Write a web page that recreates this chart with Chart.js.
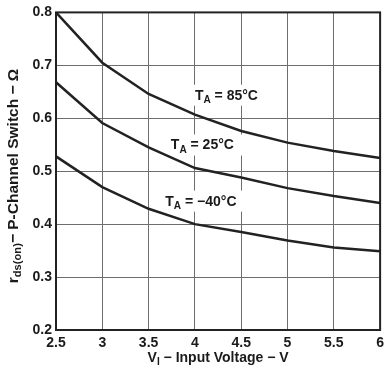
<!DOCTYPE html>
<html lang="en">
<head>
    <meta charset="UTF-8">
    <title>rds(on) vs Input Voltage</title>
    <script src="https://cdn.jsdelivr.net/npm/chart.js"></script>
    <style>
        body { margin: 0; background: #fff; }
        .chart-container { width: 389px; height: 369px; }
    </style>
</head>
<body>
    <div class="chart-container">
        <canvas id="rdsChart"></canvas>
    </div>

    <script>
        // data, every 0.5 V
        const voltages = [2.5, 3, 3.5, 4, 4.5, 5, 5.5, 6];
        const temps = ['85', '25', '\u221240'];
        const r85 = [0.800, 0.705, 0.646, 0.607, 0.576, 0.554, 0.538, 0.525];
        const r25 = [0.668, 0.591, 0.545, 0.506, 0.488, 0.468, 0.453, 0.440];
        const rMinus40 = [0.528, 0.470, 0.429, 0.400, 0.385, 0.369, 0.356, 0.349];
        const xTicks = [2.5, 3, 3.5, 4, 4.5, 5, 5.5, 6];
        const yTicks = [0.2, 0.3, 0.4, 0.5, 0.6, 0.7, 0.8];

        const FONT = '"Liberation Sans", Arial, Helvetica, sans-serif';

        // draws text made of pieces, some of them subscripts
        function richWidth(ctx, parts, size) {
            let w = 0;
            parts.forEach(p => {
                ctx.font = 'bold ' + (p.sub ? size * 0.72 : size) + 'px ' + FONT;
                w += ctx.measureText(p.t).width;
            });
            return w;
        }
        function drawRich(ctx, parts, x, y, size) {
            ctx.textAlign = 'left';
            ctx.textBaseline = 'alphabetic';
            parts.forEach(p => {
                ctx.font = 'bold ' + (p.sub ? size * 0.72 : size) + 'px ' + FONT;
                ctx.fillText(p.t, x, p.sub ? y + size * 0.22 : y);
                x += ctx.measureText(p.t).width;
            });
        }

        // where the T_A labels sit, in data units (left end, baseline)
        const labelAnchors = [[4.0, 0.635], [3.74, 0.541], [3.68, 0.435]];

        const extrasPlugin = {
            id: 'extras',
            beforeDatasetsDraw(chart) {
                const ctx = chart.ctx;
                const xs = chart.scales.x, ys = chart.scales.y;
                ctx.save();
                temps.forEach((t, i) => {
                    const parts = [{t: 'T'}, {t: 'A', sub: true}, {t: ' = ' + t + '\u00b0C'}];
                    const x = xs.getPixelForValue(labelAnchors[i][0]);
                    const y = ys.getPixelForValue(labelAnchors[i][1]);
                    const w = richWidth(ctx, parts, 14);
                    ctx.fillStyle = '#fff';
                    ctx.fillRect(x - 7, y - 15, w + 16, 21);
                    ctx.fillStyle = '#1a1a1a';
                    drawRich(ctx, parts, x, y, 14);
                });
                ctx.restore();
            },
            afterDraw(chart) {
                const ctx = chart.ctx;
                const a = chart.chartArea;
                ctx.save();
                ctx.strokeStyle = '#222';
                ctx.lineWidth = 2;
                ctx.strokeRect(a.left, a.top, a.right - a.left, a.bottom - a.top);

                ctx.fillStyle = '#1a1a1a';
                // x title
                const xParts = [{t: 'V'}, {t: 'I', sub: true}, {t: ' \u2212 Input Voltage \u2212 V'}];
                const xw = richWidth(ctx, xParts, 14);
                drawRich(ctx, xParts, (a.left + a.right) / 2 - xw / 2, 362, 14);

                // y title
                const yParts = [{t: 'r'}, {t: 'ds(on)', sub: true}, {t: '\u2212 P-Channel Switch \u2212 \u03a9'}];
                const yw = richWidth(ctx, yParts, 15.5);
                ctx.translate(18, 176);
                ctx.rotate(-Math.PI / 2);
                drawRich(ctx, yParts, -yw / 2, 0, 15.5);
                ctx.restore();
            }
        };

        const lineStyle = {
            borderColor: '#222',
            borderWidth: 2.5,
            pointRadius: 0,
            tension: 0,
            fill: false
        };

        const ctx = document.getElementById('rdsChart').getContext('2d');
        new Chart(ctx, {
            type: 'line',
            data: {
                datasets: [
                    Object.assign({ label: '85', data: voltages.map((v, i) => ({x: v, y: r85[i]})) }, lineStyle),
                    Object.assign({ label: '25', data: voltages.map((v, i) => ({x: v, y: r25[i]})) }, lineStyle),
                    Object.assign({ label: '-40', data: voltages.map((v, i) => ({x: v, y: rMinus40[i]})) }, lineStyle)
                ]
            },
            options: {
                responsive: true,
                maintainAspectRatio: false,
                animation: false,
                layout: { padding: { top: 3, right: 4, left: 0, bottom: 0 } },
                plugins: {
                    legend: { display: false },
                    tooltip: { enabled: false }
                },
                scales: {
                    x: {
                        type: 'linear',
                        min: 2.5,
                        max: 6,
                        afterFit(scale) { scale.height = 39; },
                        afterBuildTicks(scale) { scale.ticks = xTicks.map(v => ({value: v})); },
                        grid: { color: '#6e6e6e', lineWidth: 1, drawTicks: false },
                        border: { display: false },
                        ticks: {
                            padding: 5,
                            color: '#1a1a1a',
                            font: { family: FONT, size: 14, weight: 'bold' },
                            callback: v => String(v)
                        }
                    },
                    y: {
                        min: 0.2,
                        max: 0.8,
                        afterFit(scale) { scale.width = 56; },
                        afterBuildTicks(scale) { scale.ticks = yTicks.map(v => ({value: v})); },
                        grid: { color: '#6e6e6e', lineWidth: 1, drawTicks: false },
                        border: { display: false },
                        ticks: {
                            padding: 4,
                            color: '#1a1a1a',
                            font: { family: FONT, size: 14, weight: 'bold' },
                            callback: v => v.toFixed(1)
                        }
                    }
                }
            },
            plugins: [extrasPlugin]
        });
    </script>
</body>
</html>
